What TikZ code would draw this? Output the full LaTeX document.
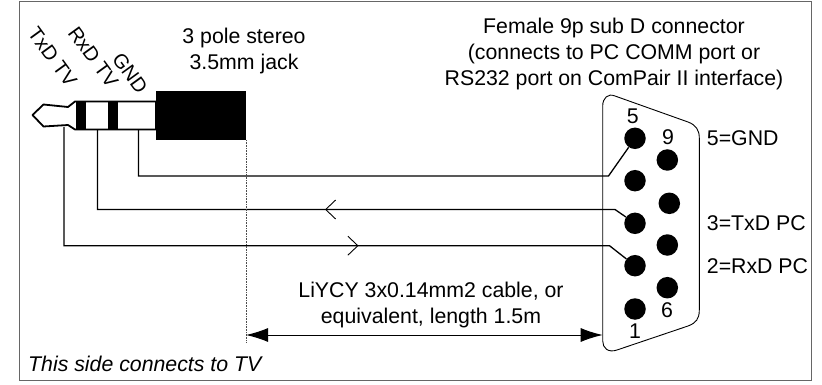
\documentclass[tikz,border=0pt]{standalone}
\usepackage{fontspec}
\setmainfont{Liberation Sans}
\usetikzlibrary{arrows.meta}
\tikzset{
  lbl/.style={inner sep=0pt,align=center,font=\fontsize{21.3}{26}\selectfont},
  wirelbl/.style={lbl,rotate=-54,font=\fontsize{20}{24}\selectfont},
  pin/.style={circle,fill=black,inner sep=0pt,minimum size=21.5pt},
  wire/.style={line width=1.3pt,line join=miter},
  band/.style={fill=black,draw=none},
  barb/.style={line width=0.9pt,-{Straight Barb[length=10pt,width=19pt,line width=0.9pt]}},
}
\begin{document}
\begin{tikzpicture}[x=1pt,y=-1pt]
  \useasboundingbox (0,0) rectangle (822,385);
  \draw[line width=1pt,color=black!60] (19,2) rectangle (811.5,380);

  % jack plug
  \draw[line width=1.8pt,fill=white,line join=round] (32.5,115) -- (43.5,104.5) -- (68,107) -- (75,101.5) -- (156,101.5) -- (156,129.5) -- (75,129.5) -- (68,125) -- (43.5,126.5) -- cycle;
  \fill[band] (76,101) rectangle (86,129.5);
  \fill[band] (108,101) rectangle (118,129.5);
  \draw (201,115.5) node[band,minimum width=90pt,minimum height=49.5pt,inner sep=0pt] (plug) {};

  \draw (635,138.3) node[pin] (pin5) {};
  \draw (635,180.7) node[pin] (pin4) {};
  \draw (635,223.3) node[pin] (pin3) {};
  \draw (635,265.7) node[pin] (pin2) {};
  \draw (635,309) node[pin] (pin1) {};
  \draw (667.3,160) node[pin] (pin9) {};
  \draw (669.3,203.3) node[pin] (pin8) {};
  \draw (667.3,245) node[pin] (pin7) {};
  \draw (667.3,287.7) node[pin] (pin6) {};

  % sub D shell
  \draw[line width=0.9pt] (602.7,106) .. controls (602.7,98) and (608,93) .. (615,96) -- (688,122) .. controls (696,125) and (699.3,130) .. (699.3,138) -- (699.3,310) .. controls (699.3,319) and (696,323) .. (688,326) -- (617,350) .. controls (608,353) and (602.7,348) .. (602.7,341) -- cycle;

  \draw (64,127) coordinate (tiptx);
  \draw (97.5,129.5) coordinate (tiprx);
  \draw (138.5,129.5) coordinate (tipgnd);
  \draw (608.5,176) coordinate (bendgnd);
  \draw (615,209.5) coordinate (bendrx);
  \draw (609.5,245.7) coordinate (bendtx);

  \draw[wire] (tipgnd) |- (bendgnd) -- (pin5);
  \draw[wire] (tiprx) |- (bendrx) -- (pin3);
  \draw[wire] (tiptx) |- (bendtx) -- (pin2);

  % direction of the signals
  \draw (345,209.5) coordinate (rxtail);
  \draw (325,209.5) coordinate (rxhead);
  \draw (338,245.7) coordinate (txtail);
  \draw (358.5,245.7) coordinate (txhead);
  \path[barb] (rxtail) edge (rxhead);
  \path[barb] (txtail) edge (txhead);

  % length of the cable
  \draw (246,140) coordinate (plugend);
  \draw (246,343) coordinate (dimfoot);
  \draw (246,335) coordinate (dimleft);
  \draw (602.7,335) coordinate (dimright);
  \draw[line width=0.6pt,densely dotted,color=black!70] (plugend) -- (dimfoot);
  \draw[line width=1pt,{Latex[length=22pt,width=14pt]}-{Latex[length=22pt,width=14pt]}] (dimleft) -- (dimright);

  \draw (52.5,56.7) node[wirelbl] (txdtv) {TxD TV};
  \draw (93.3,57.3) node[wirelbl] (rxdtv) {RxD TV};
  \draw (130,73) node[wirelbl] (gnd) {GND};
  \draw (244,50.5) node[lbl] (jack) {3 pole stereo\\3.5mm jack};
  \draw (614,54) node[lbl] (female) {Female 9p sub D connector\\(connects to PC COMM port or\\RS232 port on ComPair II interface)};
  \draw (431,305) node[lbl] (cable) {LiYCY 3x0.14mm2 cable, or\\equivalent, length 1.5m};
  \draw (632.7,116) node[lbl] (num5) {5};
  \draw (668,137) node[lbl] (num9) {9};
  \draw (667,310) node[lbl] (num6) {6};
  \draw (635,331.5) node[lbl] (num1) {1};
  \draw (706.7,138) node[lbl,anchor=west] (is5) {5=GND};
  \draw (706.7,223) node[lbl,anchor=west] (is3) {3=TxD PC};
  \draw (706.7,265.7) node[lbl,anchor=west] (is2) {2=RxD PC};
  \draw (28,364) node[lbl,anchor=west,font=\fontsize{21.3}{26}\selectfont\itshape] (side) {This side connects to TV};
\end{tikzpicture}
\end{document}
